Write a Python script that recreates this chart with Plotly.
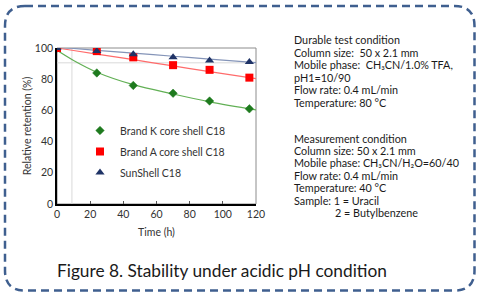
import plotly.graph_objects as go

# ---- data ----
time_h = [0, 24, 46, 70, 92, 116]
brand_k = [100, 84, 76, 71, 66, 61]
brand_a = [100, 98, 94, 89, 86, 81]
sunshell = [100, 98, 96, 94, 92, 91]

trend_x = [0, 10, 24, 46, 70, 92, 120]
trend_k = [98.5, 92, 84.5, 76.5, 70.5, 65.5, 60.3]
trend_a = [100, 98.4, 96.1, 92.5, 88.5, 84.9, 80.4]
trend_s = [100.5, 99.7, 98.5, 96.7, 94.7, 92.9, 90.6]

x_ticks = [0, 20, 40, 60, 80, 100, 120]
y_ticks = [0, 20, 40, 60, 80, 100]

cond1 = ["Durable test condition",
         "Column size:  50 x 2.1 mm",
         "Mobile phase:  CH\u2083CN/1.0% TFA,",
         "pH1=10/90",
         "Flow rate: 0.4 mL/min",
         "Temperature: 80 \u00b0C"]
cond2 = ["Measurement condition",
         "Column size: 50 x 2.1 mm",
         "Mobile phase: CH\u2083CN/H\u2082O=60/40",
         "Flow rate: 0.4 mL/min",
         "Temperature: 40 \u00b0C",
         "Sample: 1 = Uracil",
         "2 = Butylbenzene"]
cond2_indent = [0, 0, 0, 0, 0, 0, 41]
caption = "Figure 8. Stability under acidic pH condition"

W, H = 478, 294
L, R, T, B = 57, 256, 48, 204
FONT = "Lato"

def px(x):
    return (x - L) / (R - L)

def py(y):
    return (B - y) / (B - T)

fig = go.Figure()

fig.add_trace(go.Scatter(x=trend_x, y=trend_k, mode="lines",
    line=dict(color="#62B055", width=1.2, shape="spline"), showlegend=False, hoverinfo="skip"))
fig.add_trace(go.Scatter(x=trend_x, y=trend_a, mode="lines",
    line=dict(color="#FF6B6B", width=1.2, shape="spline"), showlegend=False, hoverinfo="skip"))
fig.add_trace(go.Scatter(x=trend_x, y=trend_s, mode="lines",
    line=dict(color="#8494B8", width=1.2, shape="spline"), showlegend=False, hoverinfo="skip"))

fig.add_trace(go.Scatter(x=time_h, y=brand_k, mode="markers", name="Brand K core shell C18",
    legendgroup="k", marker=dict(symbol="diamond", size=6.5, color="#1E7A1E",
                                  line=dict(color="#1E7A1E", width=0.5))))
fig.add_trace(go.Scatter(x=time_h, y=brand_a, mode="markers", name="Brand A core shell C18",
    legendgroup="a", marker=dict(symbol="square", size=8, color="#FF0000")))
fig.add_trace(go.Scatter(x=time_h, y=sunshell, mode="markers", name="SunShell C18",
    legendgroup="s", marker=dict(symbol="triangle-up", size=8, color="#1F3366")))

shapes = []
shapes.append(dict(type="rect", xref="paper", yref="paper", x0=0, x1=1, y0=0, y1=1,
                   line=dict(color="#8C8C8C", width=1), layer="below"))
shapes.append(dict(type="line", xref="x", yref="paper", x0=9, x1=9, y0=0, y1=1,
                   line=dict(color="#D9D9D9", width=1), layer="below"))
shapes.append(dict(type="line", xref="paper", yref="y", x0=0, x1=1, y0=90.5, y1=90.5,
                   line=dict(color="#D9D9D9", width=1), layer="below"))

x0b, x1b, y0b, y1b, r = 5, 474.5, 6, 290.5, 20
path = (f"M {px(x0b + r)},{py(y0b)} L {px(x1b - r)},{py(y0b)} "
        f"Q {px(x1b)},{py(y0b)} {px(x1b)},{py(y0b + r)} "
        f"L {px(x1b)},{py(y1b - r)} Q {px(x1b)},{py(y1b)} {px(x1b - r)},{py(y1b)} "
        f"L {px(x0b + r)},{py(y1b)} Q {px(x0b)},{py(y1b)} {px(x0b)},{py(y1b - r)} "
        f"L {px(x0b)},{py(y0b + r)} Q {px(x0b)},{py(y0b)} {px(x0b + r)},{py(y0b)} Z")
shapes.append(dict(type="path", xref="paper", yref="paper", path=path,
                   line=dict(color="#3F5F8F", width=2.5, dash="8px,5px")))

annotations = []
y = 40
for line in cond1:
    annotations.append(dict(x=px(292), y=py(y), xref="paper", yref="paper", text=line,
                            showarrow=False, xanchor="left", yanchor="middle",
                            font=dict(family=FONT, size=10.8, color="#1a1a1a")))
    y += 12.4
y = 138
for line, ind in zip(cond2, cond2_indent):
    annotations.append(dict(x=px(292 + ind), y=py(y), xref="paper", yref="paper", text=line,
                            showarrow=False, xanchor="left", yanchor="middle",
                            font=dict(family=FONT, size=10.8, color="#1a1a1a")))
    y += 12.45
annotations.append(dict(x=px(55), y=py(270), xref="paper", yref="paper", text=caption,
                        showarrow=False, xanchor="left", yanchor="middle",
                        font=dict(family=FONT, size=17.3, color="#1a1a1a")))

fig.update_layout(
    width=W, height=H,
    margin=dict(l=L, r=W - R, t=T, b=H - B, autoexpand=False),
    paper_bgcolor="white", plot_bgcolor="white",
    font=dict(family=FONT, size=10.5, color="#333333"),
    showlegend=True,
    legend=dict(x=px(80), y=py(116), xanchor="left", yanchor="top",
                bgcolor="rgba(0,0,0,0)", font=dict(size=10.5, color="#333333"),
                tracegroupgap=2, itemwidth=30),
    shapes=shapes, annotations=annotations,
    xaxis=dict(range=[0, 120], tickvals=x_ticks, showgrid=False, zeroline=False,
               showline=True, linecolor="black", linewidth=1.5,
               ticks="inside", ticklen=3, tickcolor="#555",
               title=dict(text="Time (h)", standoff=9, font=dict(size=10.5, color="#333"))),
    yaxis=dict(range=[0, 100], tickvals=y_ticks, showgrid=False, zeroline=False,
               showline=True, linecolor="black", linewidth=1.5,
               ticks="", title=dict(text="Relative retention (%)", standoff=1,
                                    font=dict(size=10.5, color="#333"))),
)

fig.write_html("out.html", config={"displayModeBar": False},
               post_script="document.body.style.margin='0';")
